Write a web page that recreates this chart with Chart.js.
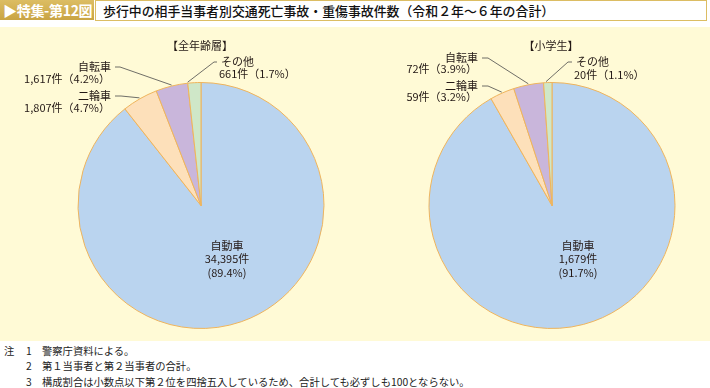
<!DOCTYPE html>
<html lang="ja">
<head>
<meta charset="utf-8">
<script src="https://cdn.jsdelivr.net/npm/chart.js@4/dist/chart.umd.min.js"></script>
<style>
  html, body { margin:0; padding:0; width:710px; height:388px; background:#fff; overflow:hidden;
    font-family:"Noto Sans CJK JP", "Noto Sans", sans-serif; }
  #hdrLabel { position:absolute; left:0; top:0; width:94px; height:20px;
    background:linear-gradient(#dcbd63,#c9a443); color:#fff; font-size:14px; font-weight:700;
    line-height:20px; padding-left:3px; box-sizing:border-box; white-space:nowrap; letter-spacing:-0.3px; }
  #hdrTitle { position:absolute; left:95px; top:0; width:612px; height:21px; box-sizing:border-box;
    border:1px solid #dcbd63; background:#fff; color:#111; font-size:12.9px; line-height:19px;
    padding-left:7px; white-space:nowrap; font-weight:500; }
  #panel { position:absolute; left:0; top:27px; width:710px; height:314px; background:#fffad6; }
  canvas { position:absolute; }
  #notes { position:absolute; left:0; top:343px; font-size:10.3px; color:#222; line-height:15.3px; }
  #notes div { white-space:nowrap; position:relative; height:15.3px; }
  #notes .k { position:absolute; left:4px; }
  #notes .n { position:absolute; left:26px; }
  #notes .t { position:absolute; left:42px; }
</style>
</head>
<body>
<div id="hdrLabel">▶特集-第12図</div>
<div id="hdrTitle">歩行中の相手当事者別交通死亡事故・重傷事故件数（令和２年～６年の合計）</div>
<div id="panel"></div>
<canvas id="c1" width="360" height="314" style="left:0;top:27px;width:360px;height:314px"></canvas>
<canvas id="c2" width="355" height="314" style="left:355px;top:27px;width:355px;height:314px"></canvas>
<div id="notes">
  <div><span class="k">注</span><span class="n">1</span><span class="t">警察庁資料による。</span></div>
  <div><span class="n">2</span><span class="t">第１当事者と第２当事者の合計。</span></div>
  <div><span class="n">3</span><span class="t">構成割合は小数点以下第２位を四捨五入しているため、合計しても必ずしも100とならない。</span></div>
</div>
<script>
// ---- data ----
const categories = ["自動車", "二輪車", "自転車", "その他"];
const allAgesValues = [34395, 1807, 1617, 661];
const allAgesLabels = ["34,395件", "1,807件", "1,617件", "661件"];
const allAgesPct = ["89.4%", "4.7%", "4.2%", "1.7%"];
const schoolValues = [1679, 59, 72, 20];
const schoolLabels = ["1,679件", "59件", "72件", "20件"];
const schoolPct = ["91.7%", "3.2%", "3.9%", "1.1%"];
const panelTitles = ["【全年齢層】", "【小学生】"];

const sliceColors = ["#bad4ef", "#fde0ba", "#c9b6db", "#cfe7c8"];
const borderCol = "#efb45c";
const FONT = '"Noto Sans CJK JP", "Noto Sans", sans-serif';
const TXT = "#231815";

// callout plugin: draws title, centre label and leader lines using arc geometry
const calloutPlugin = {
  id: 'callouts',
  afterDatasetsDraw(chart, args, opts) {
    const ctx = chart.ctx;
    const meta = chart.getDatasetMeta(0);
    const arcs = meta.data;
    const cx = arcs[0].x, cy = arcs[0].y;
    const R = arcs[0].outerRadius;
    ctx.save();
    ctx.fillStyle = TXT;
    ctx.font = '11px ' + FONT;
    ctx.textBaseline = 'middle';
    // title
    ctx.textAlign = 'center';
    ctx.fillText(opts.title, cx + opts.titleDx, cy + opts.titleDy);
    // centre label (first slice)
    const cl = opts.center;
    ctx.fillText(categories[0], cx + cl.dx, cy + cl.dy);
    ctx.fillText(opts.counts[0], cx + cl.dx, cy + cl.dy + 13.5);
    ctx.fillText('(' + opts.pcts[0] + ')', cx + cl.dx, cy + cl.dy + 27);
    // callouts
    ctx.strokeStyle = '#4a4a4a';
    ctx.lineWidth = 0.8;
    opts.callouts.forEach(c => {
      const a = arcs[c.i];
      const ang = a.startAngle + (a.endAngle - a.startAngle) * (c.f ?? 0.5);
      const ax = cx + Math.cos(ang) * (R + 1);
      const ay = cy + Math.sin(ang) * (R + 1);
      const tx = cx + c.dx, ty = cy + c.dy;
      const dir = c.side === 'left' ? 1 : -1; // line goes right from left labels
      const sx = tx + dir * 4, ex = sx + dir * c.h;
      ctx.beginPath();
      ctx.moveTo(sx, ty);
      ctx.lineTo(ex, ty);
      ctx.lineTo(ax, ay);
      ctx.stroke();
      ctx.textAlign = c.side === 'left' ? 'right' : 'left';
      ctx.fillText(categories[c.i], tx, ty);
      ctx.fillText(opts.counts[c.i] + '（' + opts.pcts[c.i] + '）', tx + (c.side === 'left' ? -1 : -2), ty + c.gap);
    });
    ctx.restore();
  }
};

function makePie(id, values, counts, pcts, title, pad, callouts) {
  return new Chart(document.getElementById(id), {
    type: 'pie',
    data: {
      labels: categories,
      datasets: [{
        data: values,
        backgroundColor: sliceColors,
        borderColor: borderCol,
        borderWidth: 1
      }]
    },
    options: {
      responsive: false,
      animation: false,
      layout: { padding: pad },
      plugins: {
        legend: { display: false },
        tooltip: { enabled: false },
        callouts: {
          title: title, titleDx: -1, titleDy: -159.5,
          counts: counts, pcts: pcts,
          center: { dx: 26, dy: 40 },
          callouts: callouts
        }
      }
    },
    plugins: [calloutPlugin]
  });
}

// left: centre (201, 178.5) in canvas, radius ~123.5
makePie('c1', allAgesValues, allAgesLabels, allAgesPct, panelTitles[0],
  { left: 77.5, right: 35.5, top: 55, bottom: 12 },
  [
    { i: 2, side: 'left', dx: -90, dy: -138.5, h: 5, gap: 11.5 },
    { i: 1, side: 'left', dx: -90, dy: -109.5, h: 6, gap: 11.5 },
    { i: 3, side: 'right', dx: 20, dy: -143.5, h: 3, gap: 12, f: 0.0 }
  ]);
// right: centre (197, 178.5) in canvas
makePie('c2', schoolValues, schoolLabels, schoolPct, panelTitles[1],
  { left: 73.5, right: 34.5, top: 55, bottom: 12 },
  [
    { i: 2, side: 'left', dx: -74, dy: -147.5, h: 6, gap: 11 },
    { i: 1, side: 'left', dx: -74, dy: -119.5, h: 6, gap: 11 },
    { i: 3, side: 'right', dx: 24, dy: -143.5, h: 4, gap: 13, f: 0.3 }
  ]);
</script>
</body>
</html>
